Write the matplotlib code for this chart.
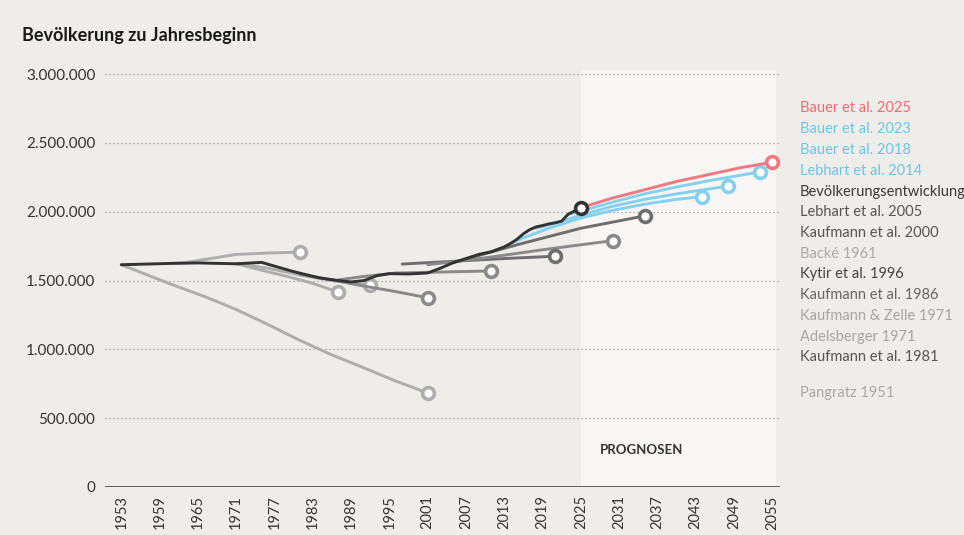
import numpy as np
import matplotlib
matplotlib.use("Agg")
import matplotlib.pyplot as plt
from matplotlib.ticker import FuncFormatter

plt.rcParams['font.family'] = ['Lato', 'DejaVu Sans']

# ---- data (population in millions) ----
actual_years = [1953, 1957, 1961, 1965, 1971, 1975, 1977, 1980, 1984, 1987, 1989, 1991, 1993,
                1995, 1998, 2001, 2003, 2005, 2007, 2009, 2011, 2013, 2014, 2015, 2016, 2017,
                2018, 2019, 2020, 2021, 2022, 2023, 2024, 2025]
actual_pop = [1.615, 1.620, 1.625, 1.628, 1.622, 1.632, 1.605, 1.565, 1.520, 1.500, 1.490, 1.500,
              1.535, 1.550, 1.548, 1.555, 1.590, 1.630, 1.660, 1.690, 1.710, 1.745, 1.770, 1.800,
              1.840, 1.870, 1.890, 1.900, 1.912, 1.920, 1.932, 1.982, 2.005, 2.030]

bauer2025_years = [2025, 2030, 2035, 2040, 2045, 2050, 2055]
bauer2025_pop = [2.030, 2.100, 2.160, 2.220, 2.270, 2.320, 2.360]
bauer2023_years = [2023, 2025, 2030, 2035, 2040, 2045, 2050, 2053]
bauer2023_pop = [1.980, 2.005, 2.070, 2.130, 2.180, 2.225, 2.265, 2.290]
bauer2018_years = [2018, 2020, 2022, 2025, 2030, 2035, 2040, 2045, 2048]
bauer2018_pop = [1.880, 1.905, 1.930, 1.975, 2.040, 2.090, 2.130, 2.165, 2.186]
lebhart2014_years = [2014, 2016, 2018, 2020, 2022, 2025, 2030, 2035, 2040, 2044]
lebhart2014_pop = [1.770, 1.810, 1.845, 1.880, 1.910, 1.955, 2.010, 2.055, 2.090, 2.110]
lebhart2005_years = [2005, 2015, 2025, 2035]
lebhart2005_pop = [1.630, 1.760, 1.880, 1.970]
kaufmann2000_years = [2001, 2010, 2020, 2030]
kaufmann2000_pop = [1.615, 1.665, 1.730, 1.790]
backe1961_years = [1961, 1963, 1967, 1971, 1976, 1981]
backe1961_pop = [1.625, 1.630, 1.660, 1.690, 1.700, 1.707]
kytir1996_years = [1997, 2005, 2013, 2021]
kytir1996_pop = [1.620, 1.640, 1.660, 1.677]
kaufmann1986_years = [1987, 1991, 1996, 2001, 2006, 2011]
kaufmann1986_pop = [1.505, 1.530, 1.555, 1.560, 1.565, 1.570]
kz1971_years = [1971, 1976, 1981, 1986, 1992]
kz1971_pop = [1.622, 1.590, 1.540, 1.500, 1.467]
adelsberger1971_years = [1971, 1975, 1979, 1983, 1987]
adelsberger1971_pop = [1.622, 1.575, 1.530, 1.480, 1.416]
kaufmann1981_years = [1981, 1986, 1991, 1996, 2001]
kaufmann1981_pop = [1.545, 1.505, 1.460, 1.420, 1.375]
pangratz1951_years = [1953, 1961, 1966, 1971, 1976, 1981, 1986, 1991, 1996, 2001]
pangratz1951_pop = [1.615, 1.470, 1.385, 1.290, 1.180, 1.065, 0.960, 0.866, 0.770, 0.683]

x_ticks = list(range(1953, 2056, 6))
y_ticks = [0, 500000, 1000000, 1500000, 2000000, 2500000, 3000000]

legend_labels = ['Bauer et al. 2025', 'Bauer et al. 2023', 'Bauer et al. 2018', 'Lebhart et al. 2014',
                 'Bevölkerungsentwicklung', 'Lebhart et al. 2005', 'Kaufmann et al. 2000', 'Backé 1961',
                 'Kytir et al. 1996', 'Kaufmann et al. 1986', 'Kaufmann & Zelle 1971', 'Adelsberger 1971',
                 'Kaufmann et al. 1981', 'Pangratz 1951']

RED = '#f07880'
BLUE = '#86d0ef'
DARK = '#333333'
GREY = '#6e6e6e'
MID = '#8a8a8a'
LIGHT = '#adadad'

legend_colors = ['#ee6b74', '#6cc4ea', '#6cc4ea', '#6cc4ea', '#3a3a3a', '#555555', '#555555', '#aaaaaa',
                 '#444444', '#666666', '#a5a5a5', '#a5a5a5', '#555555', '#a8a8a8']

BG = '#efedea'

fig = plt.figure(figsize=(9.64, 5.35), dpi=100, facecolor=BG)
ax = fig.add_axes([105 / 964, 1 - 487 / 535, 675 / 964, 417 / 535])
ax.set_facecolor(BG)

ax.set_xlim(1950.45, 2056.2)
ax.set_ylim(0, 3.03e6)

# forecast area
ax.axvspan(2025, 2055.6, color='#f7f6f4', zorder=0, lw=0)
ax.text(2028, 0.27e6, 'PROGNOSEN', fontsize=9.5, color='#333333', fontweight='bold', va='center')

for yv in y_ticks[1:]:
    ax.axhline(yv, color='#9a9a9a', lw=0.9, ls=(0, (1, 2.2)), zorder=1)
ax.axhline(0, color='#555555', lw=1.3, zorder=2)


def draw(years, pop, color, z, lw=2.1):
    y = np.array(pop) * 1e6
    ax.plot(years, y, color=color, lw=lw, zorder=z, solid_capstyle='round')
    ax.plot(years[-1], y[-1], 'o', ms=8.5, mfc='white', mec=color, mew=2.6, zorder=z + 0.5)


draw(pangratz1951_years, pangratz1951_pop, LIGHT, 3)
draw(backe1961_years, backe1961_pop, LIGHT, 3)
draw(kz1971_years, kz1971_pop, LIGHT, 3)
draw(adelsberger1971_years, adelsberger1971_pop, LIGHT, 3)
draw(kaufmann1981_years, kaufmann1981_pop, MID, 4)
draw(kaufmann1986_years, kaufmann1986_pop, MID, 4)
draw(kytir1996_years, kytir1996_pop, GREY, 4)
draw(kaufmann2000_years, kaufmann2000_pop, MID, 4)
draw(lebhart2005_years, lebhart2005_pop, GREY, 5)
draw(lebhart2014_years, lebhart2014_pop, BLUE, 6)
draw(bauer2018_years, bauer2018_pop, BLUE, 6)
draw(bauer2023_years, bauer2023_pop, BLUE, 6)
draw(bauer2025_years, bauer2025_pop, RED, 7)
draw(actual_years, actual_pop, DARK, 8)

ax.set_xticks(x_ticks)
ax.set_xticklabels([str(t) for t in x_ticks], rotation=90, fontsize=10.5, color='#333333')
ax.set_yticks(y_ticks)
ax.yaxis.set_major_formatter(FuncFormatter(lambda v, p: f'{int(v):,}'.replace(',', '.')))
ax.tick_params(axis='y', labelsize=11, colors='#333333', length=0, pad=7)
ax.tick_params(axis='x', length=0, pad=6)
for s in ax.spines.values():
    s.set_visible(False)

fig.text(22 / 964, 1 - 36 / 535, 'Bevölkerung zu Jahresbeginn', fontsize=13, fontweight='bold',
         color='#1a1a1a', va='center')

# legend as coloured text list
label_y = [108, 129, 150, 171, 192, 212.5, 233, 254, 274, 295, 316, 336.5, 357, 392.5]
for lab, col, yp in zip(legend_labels, legend_colors, label_y):
    fig.text(800 / 964, 1 - yp / 535, lab, fontsize=10.5, color=col, va='center')

fig.savefig('out.png', dpi=100, facecolor=BG)
